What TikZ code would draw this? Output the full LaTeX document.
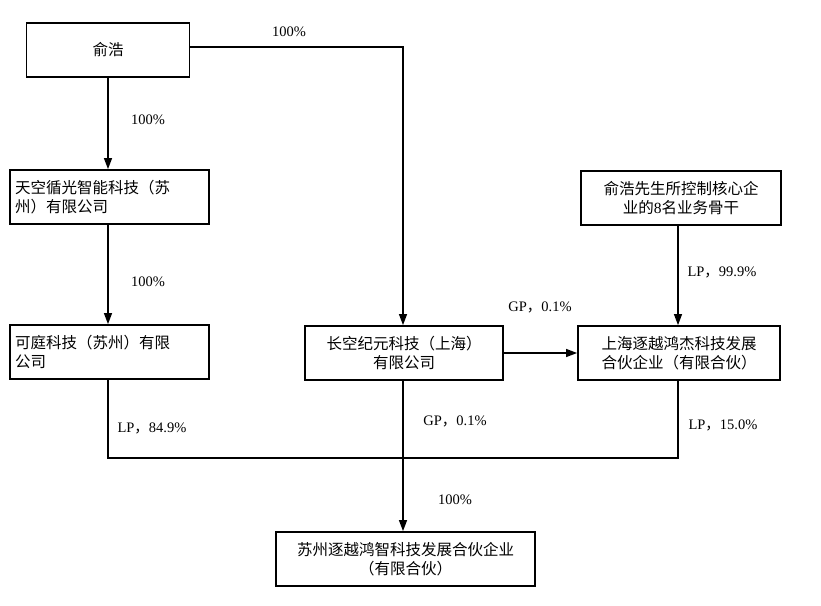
\documentclass[tikz,border=0pt]{standalone}
\usepackage{fontspec}
\setmainfont{Liberation Serif}
\newfontfamily\cjk{Noto Sans CJK SC}
\newcommand{\cm}{{\cjk ，}}
\usetikzlibrary{arrows.meta}
\begin{document}
\begin{tikzpicture}[x=1pt,y=-1pt,
  box/.style={draw,line width=1.8pt,minimum height=54pt,font=\cjk\fontsize{15.5}{19}\selectfont,inner sep=4pt},
  lab/.style={font=\fontsize{14.5}{17}\selectfont},
  ln/.style={line width=1.2pt},
  ar/.style={ln,-{Triangle[length=11pt,width=8pt]}}]
\useasboundingbox (0,0) rectangle (821,605);
\node[box,minimum width=163pt] (yh) at (108,50) {俞浩};
\node[box,minimum width=199pt,align=left,text width=189pt] (tk) at (109.5,197) {天空循光智能科技（苏\\州）有限公司};
\node[box,minimum width=199pt,align=left,text width=189pt] (kt) at (109.5,352) {可庭科技（苏州）有限\\公司};
\node[box,minimum width=198pt,align=center] (ck) at (404,353) {长空纪元科技（上海）\\有限公司};
\node[box,minimum width=200pt,align=center] (gg) at (681,198) {俞浩先生所控制核心企\\业的{\rmfamily 8}名业务骨干};
\node[box,minimum width=202pt,align=center] (sh) at (679,353) {上海逐越鸿杰科技发展\\合伙企业（有限合伙）};
\node[box,minimum width=259pt,align=center] (sz) at (405.5,559) {苏州逐越鸿智科技发展合伙企业\\（有限合伙）};
\coordinate (c1) at (403,47);
\coordinate (m) at (403,458);
\coordinate (l) at (108,458);
\coordinate (r) at (678,458);
\draw[ar] (yh.south -| l) -- (tk.north -| l);
\draw[ar] (tk.south -| l) -- (kt.north -| l);
\draw[ar] (yh.east |- c1) -- (c1) -- (ck.north -| c1);
\draw[ar] (ck) -- (sh);
\draw[ar] (gg.south -| r) -- (sh.north -| r);
\draw[ln] (kt.south -| l) -- (l) -- (r) -- (sh.south -| r);
\draw[ar] (ck.south -| m) -- (sz.north -| m);
\node[lab] at (148,120) {100\%};
\node[lab] at (148,282) {100\%};
\node[lab] at (289,32) {100\%};
\node[lab] at (540,307) {GP\cm 0.1\%};
\node[lab] at (722,272) {LP\cm 99.9\%};
\node[lab] at (152,428) {LP\cm 84.9\%};
\node[lab] at (455,421) {GP\cm 0.1\%};
\node[lab] at (723,425) {LP\cm 15.0\%};
\node[lab] at (455,500) {100\%};
\end{tikzpicture}
\end{document}
